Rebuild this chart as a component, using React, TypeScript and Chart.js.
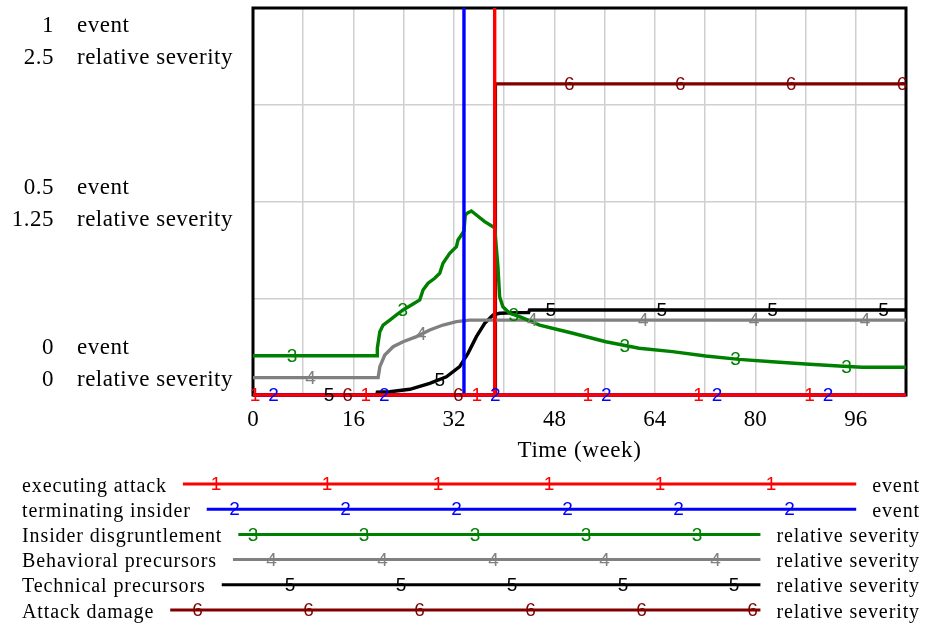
import React, { useEffect, useRef } from "react";
import { Chart, registerables } from "chart.js";

Chart.register(...registerables);

type Pt = [number, number];

// ---- axes ----
const timeMin = 0;
const timeMax = 104;
const gridStepWeeks = 8;
const xTickLabels = [0, 16, 32, 48, 64, 80, 96];
const xTitle = "Time (week)";
const eventAxisMax = 1;
const severityAxisMax = 2.5;
const eventTickValues = [1, 0.5, 0];
const severityTickValues = [2.5, 1.25, 0];
const eventUnit = "event";
const severityUnit = "relative severity";

// ---- series ----
const seriesNames = [
  "executing attack",
  "terminating insider",
  "Insider disgruntlement",
  "Behavioral precursors",
  "Technical precursors",
  "Attack damage",
];
const seriesUnits = [eventUnit, eventUnit, severityUnit, severityUnit, severityUnit, severityUnit];
const seriesAxis = ["yE", "yE", "yS", "yS", "yS", "yS"];
const seriesColors = ["#ff0000", "#0000ff", "#008000", "#808080", "#000000", "#800000"];

const executingAttack: Pt[] = [[0, 0], [38.49, 0], [38.49, 1], [38.49, 0], [104, 0]];
const terminatingInsider: Pt[] = [[0, 0], [33.6, 0], [33.6, 1], [33.6, 0], [104, 0]];
const insiderDisgruntlement: Pt[] = [
  [0, 0.254], [19.77, 0.254], [19.8, 0.302], [20.2, 0.409], [20.72, 0.452], [21.79, 0.484],
  [22.85, 0.517], [23.9, 0.549], [25.49, 0.588], [26.56, 0.614], [27.08, 0.678], [27.88, 0.722],
  [28.94, 0.754], [29.74, 0.786], [30.26, 0.851], [31.33, 0.915], [32.4, 0.958], [32.65, 1.001],
  [33.19, 1.034], [33.6, 1.06], [33.8, 1.16], [34.08, 1.174], [34.78, 1.189], [35.58, 1.163],
  [36.9, 1.12], [38.22, 1.087], [38.49, 1.08], [39.01, 0.829], [39.28, 0.635], [39.8, 0.57],
  [40.87, 0.528], [42.46, 0.506], [45.64, 0.452], [48.82, 0.42], [50.94, 0.399], [56.2, 0.344],
  [61.5, 0.302], [66.8, 0.28], [72.1, 0.252], [77.4, 0.23], [82.7, 0.215], [88, 0.2],
  [93.3, 0.187], [97, 0.179], [104, 0.179],
];
const behavioralPrecursors: Pt[] = [
  [0, 0.112], [19.93, 0.112], [20.2, 0.183], [20.99, 0.258], [22.31, 0.312], [23.9, 0.344],
  [26.03, 0.377], [28.15, 0.42], [30.26, 0.452], [32.4, 0.474], [34.51, 0.484], [104, 0.484],
];
const technicalPrecursors: Pt[] = [
  [0, 0], [19.7, 0], [19.8, 0.018], [21.79, 0.021], [24.97, 0.037], [28.15, 0.075], [30.8, 0.118],
  [32.92, 0.183], [34.24, 0.269], [35.58, 0.377], [36.9, 0.463], [38.22, 0.517], [39.28, 0.528],
  [42.46, 0.532], [43.9, 0.532], [44.05, 0.549], [104, 0.549],
];
const attackDamage: Pt[] = [[0, 0], [38.6, 0], [38.6, 2.01], [104, 2.01]];

const allSeries = [
  executingAttack,
  terminatingInsider,
  insiderDisgruntlement,
  behavioralPrecursors,
  technicalPrecursors,
  attackDamage,
];

const SERIF = "'Liberation Serif', 'Times New Roman', serif";
const SANS = "'Liberation Sans', Arial, sans-serif";

function interp(pts: Pt[], t: number): number {
  for (let i = 0; i < pts.length - 1; i++) {
    const [x0, y0] = pts[i];
    const [x1, y1] = pts[i + 1];
    if (t >= x0 && t <= x1 && x1 > x0) return y0 + ((y1 - y0) * (t - x0)) / (x1 - x0);
  }
  return pts[pts.length - 1][1];
}

const decorPlugin = {
  id: "vensimDecor",
  beforeDatasetsDraw(chart: any) {
    const { ctx, chartArea: a } = chart;
    ctx.save();
    ctx.strokeStyle = "#000";
    ctx.lineWidth = 3;
    ctx.strokeRect(a.left, a.top, a.right - a.left, a.bottom - a.top);
    ctx.restore();
  },
  afterDatasetsDraw(chart: any) {
    const { ctx, chartArea: a, scales } = chart;
    const xs = scales.x;
    ctx.save();

    // series numbers inside the plot
    ctx.font = `19px ${SANS}`;
    ctx.textAlign = "center";
    ctx.textBaseline = "middle";
    allSeries.forEach((pts, i) => {
      const ys = scales[seriesAxis[i]];
      ctx.fillStyle = seriesColors[i];
      for (let px = a.left + 2 + i * 18.5; px <= a.right; px += 110.9) {
        const v = interp(pts, xs.getValueForPixel(px));
        ctx.fillText(String(i + 1), px, ys.getPixelForValue(v) + 1);
      }
    });

    // x tick labels and title
    ctx.fillStyle = "#000";
    ctx.textBaseline = "alphabetic";
    ctx.font = `23px ${SERIF}`;
    xTickLabels.forEach((v) => ctx.fillText(String(v), xs.getPixelForValue(v), a.bottom + 31));
    ctx.letterSpacing = "0.6px";
    ctx.fillText(xTitle, (a.left + a.right) / 2, a.bottom + 62);

    // left axis labels
    const yE = scales.yE;
    const offs = [24, -8, -41];
    ctx.letterSpacing = "0.5px";
    eventTickValues.forEach((v, j) => {
      const gy = yE.getPixelForValue(v);
      const b1 = gy + offs[j];
      const b2 = b1 + 32;
      ctx.textAlign = "right";
      ctx.fillText(String(v), 54, b1);
      ctx.fillText(String(severityTickValues[j]), 54, b2);
      ctx.textAlign = "left";
      ctx.fillText(eventUnit, 77, b1);
      ctx.fillText(severityUnit, 77, b2);
    });

    // legend
    seriesNames.forEach((name, i) => {
      const y = 484 + i * 25.2;
      ctx.font = `20px ${SERIF}`;
      ctx.letterSpacing = "0.9px";
      ctx.fillStyle = "#000";
      ctx.textBaseline = "alphabetic";
      ctx.textAlign = "left";
      ctx.fillText(name, 22, y + 7.5);
      const nameW = ctx.measureText(name).width;
      ctx.textAlign = "right";
      ctx.fillText(seriesUnits[i], 920, y + 7.5);
      const unitW = ctx.measureText(seriesUnits[i]).width;
      const x0 = 22 + nameW + 16;
      const x1 = 920 - unitW - 16;
      ctx.strokeStyle = seriesColors[i];
      ctx.lineWidth = 3;
      ctx.beginPath();
      ctx.moveTo(x0, y);
      ctx.lineTo(x1, y);
      ctx.stroke();
      ctx.letterSpacing = "0px";
      ctx.font = `19px ${SANS}`;
      ctx.textAlign = "center";
      ctx.textBaseline = "middle";
      ctx.fillStyle = seriesColors[i];
      let px = 216 + i * 18.5;
      while (px - 111 > x0) px -= 111;
      for (; px < x1 - 5; px += 111) ctx.fillText(String(i + 1), px, y + 1);
    });

    ctx.restore();
  },
};

export default function App() {
  const ref = useRef<HTMLCanvasElement | null>(null);
  useEffect(() => {
    if (!ref.current) return;
    const chart = new Chart(ref.current, {
      type: "line",
      data: {
        datasets: allSeries.map((pts, i) => ({
          label: seriesNames[i],
          data: pts.map(([x, y]) => ({ x, y })),
          borderColor: seriesColors[i],
          backgroundColor: seriesColors[i],
          borderWidth: 3.4,
          pointRadius: 0,
          tension: 0,
          fill: false,
          clip: false as any,
          yAxisID: seriesAxis[i],
        })),
      },
      options: {
        animation: false,
        responsive: false,
        maintainAspectRatio: false,
        devicePixelRatio: 1,
        layout: { padding: { left: 253, right: 21, top: 8, bottom: 0 } },
        plugins: { legend: { display: false }, tooltip: { enabled: false } },
        scales: {
          x: {
            type: "linear",
            min: timeMin,
            max: timeMax,
            ticks: { display: false, stepSize: gridStepWeeks },
            grid: { color: "#cfcfcf", lineWidth: 1.5, drawTicks: false },
            border: { display: false },
            afterFit: (s: any) => {
              s.height = 233;
            },
          },
          yE: {
            type: "linear",
            position: "left",
            min: 0,
            max: eventAxisMax,
            ticks: { display: false, stepSize: eventAxisMax / 4 },
            grid: { color: "#cfcfcf", lineWidth: 1.5, drawTicks: false },
            border: { display: false },
            afterFit: (s: any) => {
              s.width = 0;
            },
          },
          yS: {
            type: "linear",
            position: "left",
            display: false,
            min: 0,
            max: severityAxisMax,
          },
        },
      } as any,
      plugins: [decorPlugin],
    });
    return () => chart.destroy();
  }, []);
  return (
    <div style={{ position: "fixed", left: 0, top: 0, width: 927, height: 628, background: "#fff" }}>
      <canvas ref={ref} width={927} height={628} style={{ display: "block" }} />
    </div>
  );
}
